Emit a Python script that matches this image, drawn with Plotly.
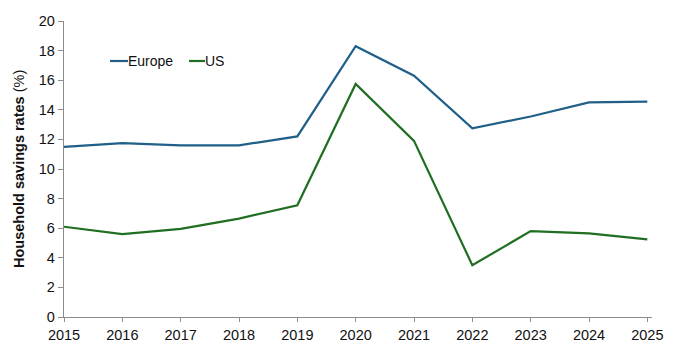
import plotly.graph_objects as go

years = [2015, 2016, 2017, 2018, 2019, 2020, 2021, 2022, 2023, 2024, 2025]
europe = [11.5, 11.75, 11.6, 11.6, 12.2, 18.3, 16.3, 12.75, 13.55, 14.5, 14.55]
us = [6.1, 5.6, 5.95, 6.65, 7.55, 15.75, 11.9, 3.5, 5.8, 5.65, 5.25]
y_ticks = [0, 2, 4, 6, 8, 10, 12, 14, 16, 18, 20]

EU_COLOR = "#1f5f88"
US_COLOR = "#1f6e22"

L, R, T, B = 64, 28, 21, 30
W, H = 680, 347
pw = W - L - R
ph = H - T - B

fig = go.Figure()
fig.add_trace(go.Scatter(x=years, y=europe, mode="lines", name="Europe",
                         line=dict(color=EU_COLOR, width=2.2), showlegend=False))
fig.add_trace(go.Scatter(x=years, y=us, mode="lines", name="US",
                         line=dict(color=US_COLOR, width=2.2), showlegend=False))

def px_x(p):
    return (p - L) / pw

def px_y(p):
    return (H - B - p) / ph

# custom legend
legend_items = [("Europe", EU_COLOR, 110, 128), ("US", US_COLOR, 189, 205)]
for name, col, x0, x1 in legend_items:
    fig.add_shape(type="line", xref="paper", yref="paper",
                  x0=px_x(x0), x1=px_x(x1), y0=px_y(61), y1=px_y(61),
                  line=dict(color=col, width=2.2))
    fig.add_annotation(x=px_x(x1), y=px_y(61), xref="paper", yref="paper",
                       text=name, showarrow=False, xanchor="left", yanchor="middle",
                       xshift=-2,
                       font=dict(size=14, color="#111", family="Liberation Sans, Arial"))

fig.update_layout(
    width=W, height=H,
    margin=dict(l=L, r=R, t=T, b=B, autoexpand=False),
    paper_bgcolor="white", plot_bgcolor="white",
    font=dict(family="Liberation Sans, Arial", size=14, color="#111"),
    xaxis=dict(range=[2015, 2025.08], tickvals=years, ticktext=[str(y) for y in years],
               showgrid=False, zeroline=False, showline=True, linecolor="#8c8c8c",
               linewidth=1.3, ticks="outside", ticklen=4, tickcolor="#8c8c8c",
               automargin=False,
               tickfont=dict(size=14.5, color="#111")),
    yaxis=dict(range=[0, 20], tickvals=y_ticks, showgrid=False, zeroline=False,
               showline=True, linecolor="#8c8c8c", linewidth=1.3,
               ticks="outside", ticklen=5, tickcolor="#8c8c8c",
               automargin=False,
               tickfont=dict(size=14.5, color="#111")),
)
fig.add_annotation(x=px_x(19), y=0.5, xref="paper", yref="paper",
                   text="<b>Household savings rates</b> (%)", showarrow=False,
                   textangle=-90, xanchor="center", yanchor="middle",
                   font=dict(size=14.5, color="#111"))

fig.write_html("out.html")
